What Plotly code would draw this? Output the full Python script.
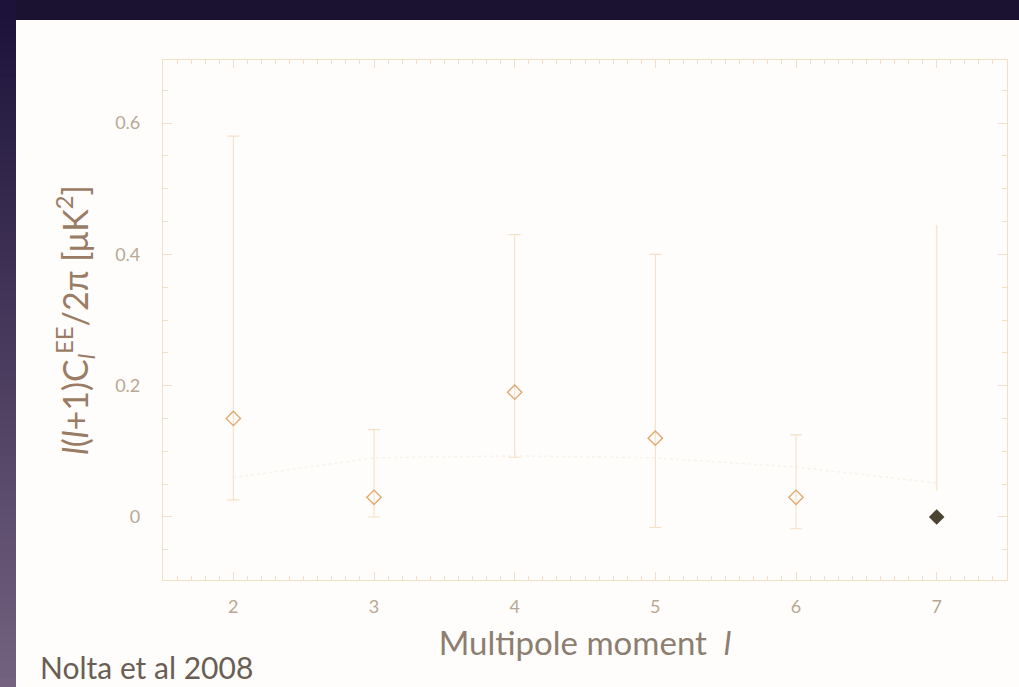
import plotly.graph_objects as go

# ---- data ----
multipole = [2, 3, 4, 5, 6]
ee_power = [0.15, 0.03, 0.19, 0.12, 0.03]
err_upper = [0.58, 0.133, 0.43, 0.40, 0.125]
err_lower = [0.026, 0.0, 0.091, -0.016, -0.018]

limit_l = [7]
limit_value = [0.0]
limit_upper = [0.445]
limit_lower = [0.04]

theory_l = [2, 3, 4, 5, 6, 7]
theory_value = [0.06, 0.09, 0.093, 0.09, 0.076, 0.052]

x_ticks = [2, 3, 4, 5, 6, 7]
y_ticks = [0, 0.2, 0.4, 0.6]
y_tick_labels = ["0", "0.2", "0.4", "0.6"]

W, H = 1019, 687
ML, MR, MT, MB = 163, 12, 60, 107
PW, PH = W - ML - MR, H - MT - MB


def px(x):
    return (x - ML) / PW


def py(y):
    return (H - MB - y) / PH


fig = go.Figure()

fig.add_trace(go.Scatter(
    x=theory_l, y=theory_value, mode="lines",
    line=dict(color="#f8f2ea", width=1.5, dash="dot"),
    hoverinfo="skip", showlegend=False))

fig.add_trace(go.Scatter(
    x=multipole, y=ee_power, mode="markers",
    marker=dict(symbol="diamond-open", size=11, color="#e2a870",
                line=dict(width=1.4, color="#e2a870")),
    error_y=dict(type="data", symmetric=False,
                 array=[u - v for u, v in zip(err_upper, ee_power)],
                 arrayminus=[v - l for l, v in zip(err_lower, ee_power)],
                 color="#f5e0c8", thickness=1.1, width=6),
    showlegend=False))

# upper-limit bar at l=7, drawn from its own bounds
fig.add_trace(go.Scatter(
    x=limit_l + limit_l, y=limit_lower + limit_upper, mode="lines",
    line=dict(color="#f7e8cf", width=1.5), showlegend=False, hoverinfo="skip"))
fig.add_trace(go.Scatter(
    x=limit_l, y=limit_value, mode="markers",
    marker=dict(symbol="diamond", size=12, color="#4a4232"),
    showlegend=False))

# photo frame: dark border, white slide
shapes = [
    dict(type="rect", xref="paper", yref="paper",
         x0=px(0), x1=px(W), y0=py(H), y1=py(0),
         fillcolor="#1a1230", line_width=0, layer="below"),
]
n = 80
c0 = (0x1c, 0x12, 0x3a)
c1 = (0x74, 0x62, 0x80)
for i in range(n):
    t = i / (n - 1)
    col = "rgb(%d,%d,%d)" % tuple(int(a + (b - a) * t) for a, b in zip(c0, c1))
    y0 = i * H / n
    y1 = (i + 1) * H / n + 3
    shapes.append(dict(type="rect", xref="paper", yref="paper",
                       x0=px(0), x1=px(16), y0=py(y1), y1=py(y0),
                       fillcolor=col, line=dict(width=0, color=col), layer="below"))
shapes.append(dict(type="rect", xref="paper", yref="paper",
                   x0=px(16), x1=px(W + 2), y0=py(H + 2), y1=py(20),
                   fillcolor="#fefdfb", line_width=0, layer="below"))
fig.update_layout(shapes=shapes)

axis_col = "#f3dfc6"
tick_font = dict(family="Lato, DejaVu Sans, sans-serif", size=18, color="#b8a894")

fig.update_xaxes(
    range=[1.5, 7.5], tickvals=x_ticks, ticktext=[str(v) for v in x_ticks],
    showgrid=False, zeroline=False, showline=True, linecolor=axis_col, linewidth=1.2,
    mirror="ticks", ticks="inside", ticklen=8, tickwidth=1.1, tickcolor=axis_col,
    minor=dict(dtick=0.1, ticks="inside", ticklen=4, tickcolor=axis_col, showgrid=False),
    tickfont=tick_font, ticklabelstandoff=10,
    title=dict(text="Multipole moment  <i>l</i>", standoff=16,
               font=dict(family="Lato, DejaVu Sans, sans-serif", size=33, color="#8c7e70")))
fig.update_yaxes(
    range=[-0.096, 0.696], tickvals=y_ticks, ticktext=y_tick_labels,
    showgrid=False, zeroline=False, showline=True, linecolor=axis_col, linewidth=1.2,
    mirror="ticks", ticks="inside", ticklen=9, tickwidth=1.1, tickcolor=axis_col,
    minor=dict(dtick=0.05, ticks="inside", ticklen=5, tickcolor=axis_col, showgrid=False),
    tickfont=tick_font, ticklabelstandoff=18,
    title=dict(text="<i>l</i>(<i>l</i>+1)C<sub><i>l</i></sub><sup>EE</sup>/2π [μK<sup>2</sup>]",
               standoff=16,
               font=dict(family="Lato, DejaVu Sans, sans-serif", size=34, color="#9a7c64")))

fig.add_annotation(text="Nolta et al 2008", xref="paper", yref="paper",
                   x=px(38), y=py(667), xanchor="left", yanchor="middle",
                   showarrow=False,
                   font=dict(family="Lato, DejaVu Sans, sans-serif", size=30, color="#6a5e54"))

fig.update_layout(
    width=W, height=H, margin=dict(l=ML, r=MR, t=MT, b=MB),
    paper_bgcolor="#1a1230", plot_bgcolor="#ffffff", showlegend=False)

fig.write_html("out.html")
